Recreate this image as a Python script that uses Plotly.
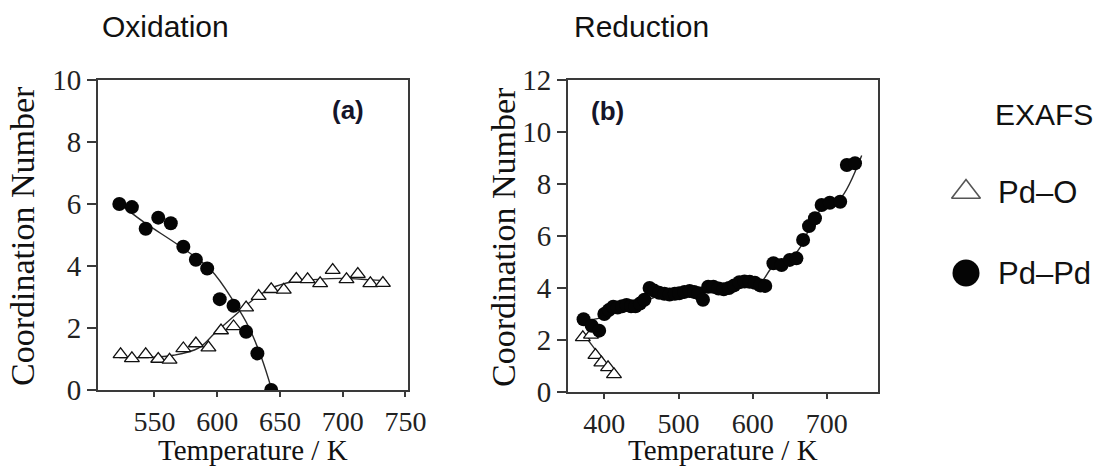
import plotly.graph_objects as go

# ---------------- data ----------------
# (a) Oxidation
ox_pdpd_T = [522, 532, 543, 553, 563, 573, 583, 592, 602, 613, 623, 632, 643]
ox_pdpd_CN = [6.0, 5.9, 5.2, 5.56, 5.38, 4.62, 4.2, 3.92, 2.93, 2.72, 1.88, 1.18, 0.0]
ox_pdo_T = [523, 532, 543, 553, 562, 573, 583, 593, 603, 613, 623, 633, 643, 653, 663,
            672, 682, 692, 703, 712, 722, 732]
ox_pdo_CN = [1.15, 1.02, 1.15, 1.0, 0.97, 1.34, 1.5, 1.37, 1.92, 2.05, 2.66, 3.03, 3.25,
             3.23, 3.58, 3.57, 3.44, 3.87, 3.57, 3.74, 3.44, 3.45]
ox_pdpd_fit_T = [522, 541, 571, 595, 614, 625, 635, 643.5]
ox_pdpd_fit_CN = [6.02, 5.43, 4.62, 3.87, 2.8, 2.04, 1.07, 0.0]
ox_pdo_fit_T = [522, 545, 565, 585, 598, 619, 630, 643, 660, 680, 700, 720, 735]
ox_pdo_fit_CN = [1.05, 1.05, 1.12, 1.35, 1.83, 2.58, 2.96, 3.28, 3.49, 3.57, 3.6, 3.56, 3.52]

# (b) Reduction
red_pdpd_T = [372, 383, 393, 400, 406, 412, 418, 424, 430, 436, 442, 448, 454, 461, 467,
              474, 481, 488, 495, 501, 508, 515, 521, 527, 533, 540, 547, 554, 561, 568,
              575, 582, 589, 596, 603, 610, 617, 628, 639, 650, 659, 668, 676, 684, 693,
              704, 718, 727, 738]
red_pdpd_CN = [2.8, 2.55, 2.36, 3.0, 3.15, 3.28, 3.25, 3.3, 3.35, 3.3, 3.3, 3.4, 3.55, 4.0,
               3.9, 3.82, 3.78, 3.75, 3.78, 3.8, 3.85, 3.88, 3.85, 3.8, 3.55, 4.05, 4.05,
               3.98, 3.95, 4.0, 4.1, 4.22, 4.25, 4.24, 4.2, 4.1, 4.08, 4.95, 4.88, 5.08,
               5.14, 5.85, 6.38, 6.68, 7.19, 7.28, 7.32, 8.73, 8.8]
red_pdo_T = [371, 382, 388, 396, 405, 413]
red_pdo_CN = [2.1, 2.2, 1.42, 1.13, 0.95, 0.68]
red_pdpd_fit_T = [372, 395, 420, 450, 480, 520, 560, 600, 612, 628, 650, 665, 680, 695,
                  717, 747]
red_pdpd_fit_CN = [2.75, 2.85, 3.15, 3.45, 3.75, 3.82, 3.95, 4.15, 4.25, 4.85, 5.1, 5.6,
                   6.5, 7.1, 7.4, 9.1]
red_pdo_fit_T = [370, 413]
red_pdo_fit_CN = [2.3, 0.68]

ox_xticks = [550, 600, 650, 700, 750]
red_xticks = [400, 500, 600, 700]
ox_yticks = [0, 2, 4, 6, 8, 10]
red_yticks = [0, 2, 4, 6, 8, 10, 12]

legend_labels = ["Pd\u2013O", "Pd\u2013Pd"]

# ---------------- styling ----------------
W, H = 1112, 467
SERIF = "Liberation Serif"
SANS = "Liberation Sans"
LINE_C = "#2a2a2a"
AX_C = "#3a3a3a"


def px_x(p):
    return p / W


def px_y(p):
    return (H - p) / H


fig = go.Figure()


def add_fit(x, y, xa, ya):
    fig.add_trace(go.Scatter(x=x, y=y, mode="lines", xaxis=xa, yaxis=ya,
                             line=dict(color=LINE_C, width=1.4, shape="spline"),
                             showlegend=False, hoverinfo="skip"))


def add_tri(x, y, xa, ya):
    fig.add_trace(go.Scatter(x=x, y=y, mode="markers", xaxis=xa, yaxis=ya,
                             marker=dict(symbol="triangle-up", size=13, color="white",
                                         line=dict(color="#111", width=1.3)),
                             showlegend=False))


def add_dot(x, y, xa, ya):
    fig.add_trace(go.Scatter(x=x, y=y, mode="markers", xaxis=xa, yaxis=ya,
                             marker=dict(symbol="circle", size=14, color="#050505",
                                         line=dict(color="#050505", width=0)),
                             showlegend=False))


# panel a
add_fit(ox_pdpd_fit_T, ox_pdpd_fit_CN, "x", "y")
add_fit(ox_pdo_fit_T, ox_pdo_fit_CN, "x", "y")
add_tri(ox_pdo_T, ox_pdo_CN, "x", "y")
add_dot(ox_pdpd_T, ox_pdpd_CN, "x", "y")
# panel b
add_fit(red_pdpd_fit_T, red_pdpd_fit_CN, "x2", "y2")
add_fit(red_pdo_fit_T, red_pdo_fit_CN, "x2", "y2")
add_tri(red_pdo_T, red_pdo_CN, "x2", "y2")
add_dot(red_pdpd_T, red_pdpd_CN, "x2", "y2")

# custom legend glyphs on a hidden pixel-scaled axis (legend area only)
LEG_X0, LEG_X1 = 930, 1112
LEG_X = 966
LEG_Y = [192, 273]
fig.add_trace(go.Scatter(x=[LEG_X], y=[LEG_Y[0]], mode="markers", xaxis="x3", yaxis="y3",
                         marker=dict(symbol="triangle-up", size=25, color="white",
                                     line=dict(color="#555", width=1.6)),
                         showlegend=False, hoverinfo="skip"))
fig.add_trace(go.Scatter(x=[LEG_X], y=[LEG_Y[1]], mode="markers", xaxis="x3", yaxis="y3",
                         marker=dict(symbol="circle", size=27, color="#050505"),
                         showlegend=False, hoverinfo="skip"))

axis_common = dict(showline=True, linecolor=AX_C, linewidth=2, mirror=True,
                   ticks="outside", tickwidth=2, tickcolor=AX_C,
                   showgrid=False, zeroline=False, automargin=False)
XFONT = dict(family=SERIF, size=28, color="#222")
YFONT = dict(family=SERIF, size=29, color="#222")
XTL, YTL = 5, 9

fig.update_layout(
    width=W, height=H, autosize=False,
    margin=dict(l=0, r=0, t=0, b=0, autoexpand=False),
    paper_bgcolor="white", plot_bgcolor="rgba(0,0,0,0)",
    xaxis=dict(domain=[px_x(98), px_x(408)], range=[505, 752], anchor="y",
               tickvals=ox_xticks, ticklen=XTL, tickfont=XFONT, **axis_common),
    yaxis=dict(domain=[px_y(390), px_y(80)], range=[0, 10], anchor="x",
               tickvals=ox_yticks, ticklen=YTL, tickfont=YFONT, **axis_common),
    xaxis2=dict(domain=[px_x(568), px_x(878)], range=[351, 769], anchor="y2",
                tickvals=red_xticks, ticklen=XTL, tickfont=XFONT, **axis_common),
    yaxis2=dict(domain=[px_y(392), px_y(80)], range=[0, 12], anchor="x2",
                tickvals=red_yticks, ticklen=YTL, tickfont=YFONT, **axis_common),
    xaxis3=dict(domain=[px_x(LEG_X0), px_x(LEG_X1)], range=[LEG_X0, LEG_X1],
                visible=False, anchor="y3"),
    yaxis3=dict(domain=[0, 1], range=[H, 0], visible=False, anchor="x3"),
    showlegend=False,
)

ann = []
# panel titles
ann.append(dict(text="Oxidation", x=px_x(100), y=px_y(27), xanchor="left", yanchor="middle",
                font=dict(family=SANS, size=30, color="#111")))
ann.append(dict(text="Reduction", x=px_x(572), y=px_y(27), xanchor="left", yanchor="middle",
                font=dict(family=SANS, size=30, color="#111")))
# panel letters
ann.append(dict(text="<b>(a)</b>", x=px_x(348), y=px_y(110), xanchor="center", yanchor="middle",
                font=dict(family=SANS, size=26, color="#15152a")))
ann.append(dict(text="<b>(b)</b>", x=px_x(607), y=px_y(111), xanchor="center", yanchor="middle",
                font=dict(family=SANS, size=26, color="#15152a")))
# axis titles
for xc in (253, 723):
    ann.append(dict(text="Temperature / K", x=px_x(xc), y=px_y(450), xanchor="center",
                    yanchor="middle", font=dict(family=SERIF, size=29, color="#111")))
for xc, yc in ((22, 236), (503, 237)):
    ann.append(dict(text="Coordination Number", x=px_x(xc), y=px_y(yc), xanchor="center",
                    yanchor="middle", textangle=-90,
                    font=dict(family=SERIF, size=34, color="#111")))
# legend
ann.append(dict(text="EXAFS", x=px_x(993), y=px_y(115), xanchor="left", yanchor="middle",
                font=dict(family=SANS, size=30, color="#111")))
for lab, ly in zip(legend_labels, LEG_Y):
    ann.append(dict(text=lab, x=px_x(996), y=px_y(ly), xanchor="left", yanchor="middle",
                    font=dict(family=SANS, size=31, color="#111")))

for a in ann:
    a.update(xref="paper", yref="paper", showarrow=False)
fig.update_layout(annotations=ann)

fig.write_html("out.html",
               config={"displayModeBar": False, "staticPlot": True},
               post_script="document.body.style.margin='0';"
                           "document.body.style.overflow='hidden';")
